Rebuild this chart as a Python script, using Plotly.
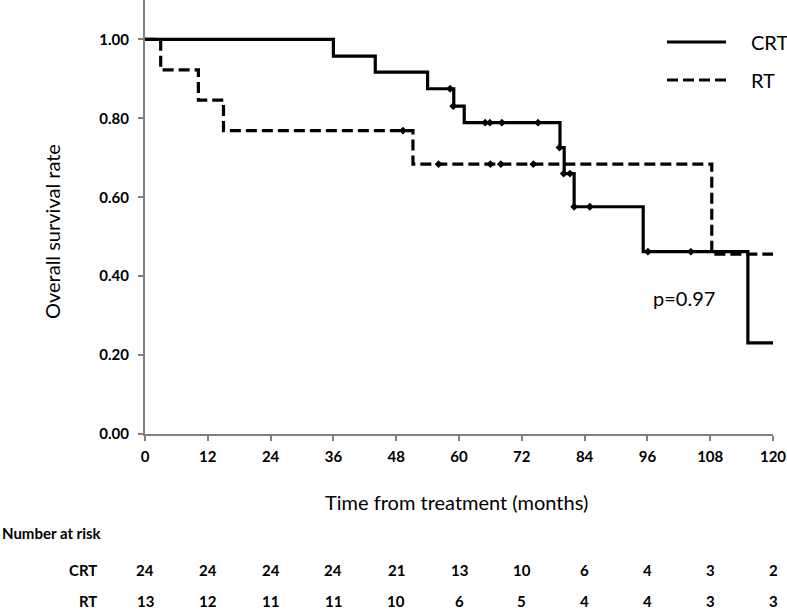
import plotly.graph_objects as go

# ---- data ----
crt_times = [0, 36, 44, 54, 59, 61, 79.3, 80.1, 82, 95.2, 115.2, 120]
crt_surv = [1.0, 0.958, 0.917, 0.875, 0.831, 0.789, 0.726, 0.660, 0.576, 0.462, 0.231, 0.231]
crt_cens_t = [58.3, 58.9, 65.0, 65.9, 68.2, 75.1, 79.2, 80.0, 81.2, 82.0, 85.0, 96.1, 104.3]
crt_cens_s = [0.875, 0.831, 0.789, 0.789, 0.789, 0.789, 0.726, 0.660, 0.660, 0.576, 0.576, 0.462, 0.462]

rt_times = [0, 3, 10.2, 15, 51.2, 108.3, 120]
rt_surv = [1.0, 0.923, 0.846, 0.769, 0.684, 0.456, 0.456]
rt_cens_t = [49.3, 56.1, 66.0, 68.0, 74.2]
rt_cens_s = [0.769, 0.684, 0.684, 0.684, 0.684]

x_ticks = [0, 12, 24, 36, 48, 60, 72, 84, 96, 108, 120]
y_ticks = [0, 0.2, 0.4, 0.6, 0.8, 1.0]
risk_crt = [24, 24, 24, 24, 21, 13, 10, 6, 4, 3, 2]
risk_rt = [13, 12, 11, 11, 10, 6, 5, 4, 4, 3, 3]

FONT = "Lato, Liberation Sans, Arial, sans-serif"

PL, PR, PT, PB = 145, 773, 0, 434   # plot area in pixels
PW, PH = PR - PL, PB - PT


def px_x(p):
    return (p - PL) / PW


def px_y(p):
    return (PB - p) / PH


fig = go.Figure()
fig.add_trace(go.Scatter(x=crt_times, y=crt_surv, mode="lines", line_shape="hv",
                         line=dict(color="black", width=3.2), name="CRT", showlegend=False))
fig.add_trace(go.Scatter(x=rt_times, y=rt_surv, mode="lines", line_shape="hv",
                         line=dict(color="black", width=3.2, dash="11px,5px"), name="RT", showlegend=False))
fig.add_trace(go.Scatter(x=crt_cens_t, y=crt_cens_s, mode="markers",
                         marker=dict(symbol="diamond", size=6, color="black"), showlegend=False))
fig.add_trace(go.Scatter(x=rt_cens_t, y=rt_cens_s, mode="markers",
                         marker=dict(symbol="diamond", size=6, color="black"), showlegend=False))

axis_common = dict(showgrid=False, zeroline=False, showline=True, linecolor="#808080",
                   linewidth=2, ticks="outside", tickcolor="#808080", ticklen=5, tickwidth=1.5,
                   tickfont=dict(family=FONT, size=15, color="black", weight="bold"))

fig.update_xaxes(range=[0, 120], tickvals=x_ticks, ticklabelstandoff=3, **axis_common)
fig.update_yaxes(range=[0, 1.1], tickvals=y_ticks, tickformat=".2f", ticklabelstandoff=6,
                 **axis_common)

annotations = []
# axis titles
annotations.append(dict(text="Time from treatment (months)", xref="paper", yref="paper",
                        x=px_x(456), y=px_y(502), xanchor="center", yanchor="middle", showarrow=False,
                        font=dict(family=FONT, size=20, color="black")))
annotations.append(dict(text="Overall survival rate", xref="paper", yref="paper",
                        x=px_x(52), y=px_y(232), xanchor="center", yanchor="middle", showarrow=False,
                        textangle=-90, font=dict(family=FONT, size=20, color="black")))
annotations.append(dict(text="p=0.97", xref="paper", yref="paper", x=px_x(651), y=px_y(298),
                        xanchor="left", yanchor="middle", showarrow=False,
                        font=dict(family=FONT, size=20, color="black")))
# legend (manual)
annotations.append(dict(text="CRT", xref="paper", yref="paper", x=px_x(749),
                        y=px_y(42), xanchor="left", yanchor="middle", showarrow=False,
                        font=dict(family=FONT, size=20, color="black")))
annotations.append(dict(text="RT", xref="paper", yref="paper", x=px_x(749),
                        y=px_y(80), xanchor="left", yanchor="middle", showarrow=False,
                        font=dict(family=FONT, size=20, color="black")))
# number at risk
annotations.append(dict(text="Number at risk", xref="paper", yref="paper", x=px_x(0),
                        y=px_y(533), xanchor="left", yanchor="middle", showarrow=False,
                        font=dict(family=FONT, size=15, color="black", weight="bold")))
for lbl, py in (("CRT", 570), ("RT", 601)):
    annotations.append(dict(text=lbl, xref="paper", yref="paper", x=px_x(99),
                            y=px_y(py), xanchor="right", yanchor="middle", showarrow=False,
                            font=dict(family=FONT, size=15, color="black", weight="bold")))
for vals, py in ((risk_crt, 570), (risk_rt, 601)):
    for xv, n in zip(x_ticks, vals):
        annotations.append(dict(text=str(n), xref="x", yref="paper", x=xv,
                                y=px_y(py), xanchor="center", yanchor="middle",
                                showarrow=False,
                                font=dict(family=FONT, size=15, color="black", weight="bold")))

shapes = [
    dict(type="line", xref="paper", yref="paper", x0=px_x(667), x1=px_x(726),
         y0=px_y(42), y1=px_y(42), line=dict(color="black", width=3.2)),
    dict(type="line", xref="paper", yref="paper", x0=px_x(667), x1=px_x(726),
         y0=px_y(80), y1=px_y(80), line=dict(color="black", width=3.2, dash="11px,5px")),
]

fig.update_layout(width=787, height=612, margin=dict(l=PL, r=787 - PR, t=PT, b=612 - PB),
                  plot_bgcolor="white", paper_bgcolor="white",
                  annotations=annotations, shapes=shapes, showlegend=False)

fig.write_html("out.html", config={"displayModeBar": False},
               post_script="document.body.style.margin='0px';")
